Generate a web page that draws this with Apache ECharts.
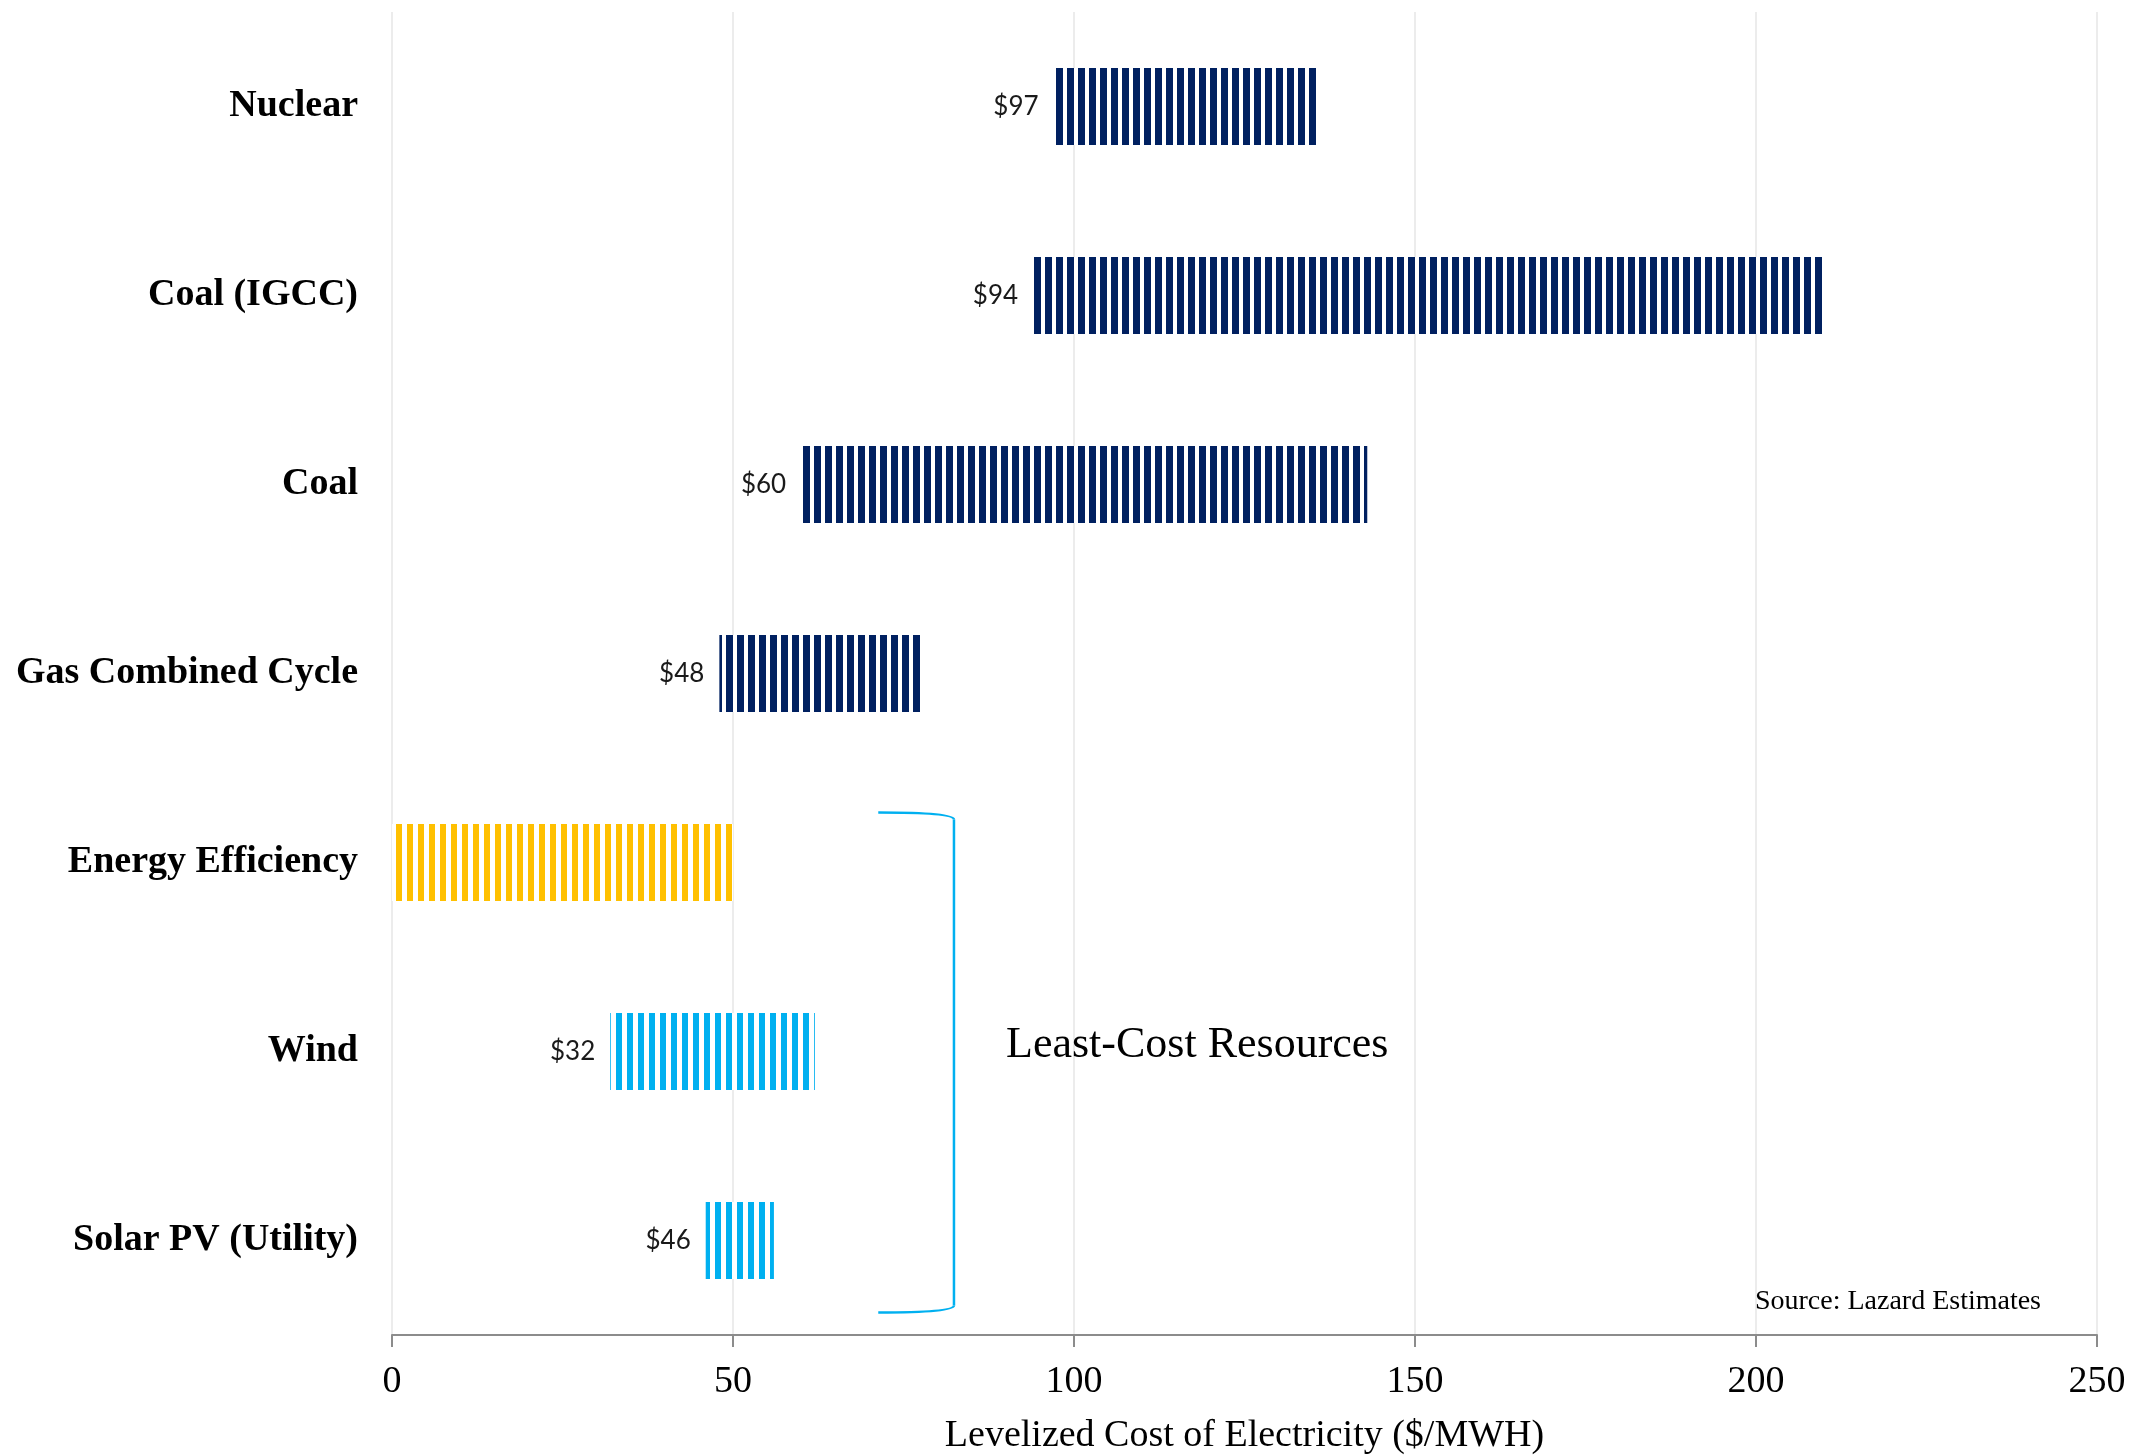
<!DOCTYPE html>
<html>
<head>
<meta charset="utf-8">
<script src="https://cdn.jsdelivr.net/npm/echarts@6/dist/echarts.min.js"></script>
<style>
  html, body { margin: 0; padding: 0; background: #ffffff; }
  #chart { width: 2156px; height: 1456px; }
</style>
</head>
<body>
<div id="chart"></div>
<script>
// Levelized cost ranges by resource ($/MWh), listed top to bottom
const categories = ['Nuclear', 'Coal (IGCC)', 'Coal', 'Gas Combined Cycle', 'Energy Efficiency', 'Wind', 'Solar PV (Utility)'];
const lowCost = [97, 94, 60, 48, 0, 32, 46];
const highCost = [136, 210, 143, 78, 50, 62, 56];
const barColors = ['#002060', '#002060', '#002060', '#002060', '#FFC000', '#00B0F0', '#00B0F0'];
const xTicks = { min: 0, max: 250, interval: 50 };

const SERIF = '"Liberation Serif", "Times New Roman", serif';
const SANS = 'Lato, "Open Sans", sans-serif';

// Vertical stripe fill: solid stripe followed by a thin white gap
function stripes(color, solid, gap) {
  const c = document.createElement('canvas');
  c.width = solid + gap;
  c.height = 4;
  const ctx = c.getContext('2d');
  ctx.fillStyle = '#ffffff';
  ctx.fillRect(0, 0, c.width, c.height);
  ctx.fillStyle = color;
  ctx.fillRect(0, 0, solid, c.height);
  return { image: c, repeat: 'repeat' };
}

const spans = highCost.map((h, i) => h - lowCost[i]);

const chart = echarts.init(document.getElementById('chart'), null, { renderer: 'canvas' });

chart.setOption({
  animation: false,
  backgroundColor: '#ffffff',
  grid: {
    left: 392, right: 59, top: 12, bottom: 121,
    containLabel: false, outerBoundsMode: 'none'
  },
  xAxis: {
    type: 'value',
    min: xTicks.min,
    max: xTicks.max,
    interval: xTicks.interval,
    name: 'Levelized Cost of Electricity ($/MWH)',
    nameLocation: 'middle',
    nameGap: 82,
    nameTextStyle: { fontFamily: SERIF, fontSize: 38, color: '#000000' },
    axisLine: { show: true, lineStyle: { color: '#8c8c8c', width: 2 } },
    axisTick: { show: true, length: 12, lineStyle: { color: '#8c8c8c', width: 2 } },
    axisLabel: { fontFamily: SERIF, fontSize: 38, color: '#000000', margin: 28 },
    splitLine: { show: true, lineStyle: { color: '#ececec', width: 2 } }
  },
  yAxis: {
    type: 'category',
    data: categories,
    inverse: true,
    axisLine: { show: false },
    axisTick: { show: false },
    splitLine: { show: false },
    axisLabel: {
      fontFamily: SERIF, fontSize: 38, fontWeight: 'bold', color: '#000000',
      margin: 34, padding: [12, 0, 0, 0]
    }
  },
  series: [
    {
      name: 'base',
      type: 'bar',
      stack: 'cost',
      barWidth: 77,
      silent: true,
      itemStyle: { color: 'rgba(0,0,0,0)' },
      data: lowCost
    },
    {
      name: 'range',
      type: 'bar',
      stack: 'cost',
      barWidth: 77,
      data: spans.map((v, i) => ({
        value: v,
        itemStyle: { color: stripes(barColors[i], i < 4 ? 7 : 6, i < 4 ? 4 : 5) }
      })),
      label: {
        show: true,
        position: 'left',
        distance: 15,
        fontFamily: SANS,
        fontSize: 26,
        color: '#1a1a1a',
        formatter: p => lowCost[p.dataIndex] > 0 ? '$' + lowCost[p.dataIndex] : ''
      }
    }
  ]
});

// Bracket grouping the least-cost resources, plus annotations
const bx0 = chart.convertToPixel({ xAxisIndex: 0 }, 71.3);
const bx1 = chart.convertToPixel({ xAxisIndex: 0 }, 82.4);
const yTop = chart.convertToPixel({ yAxisIndex: 0 }, 'Energy Efficiency') - 50;
const yBot = chart.convertToPixel({ yAxisIndex: 0 }, 'Solar PV (Utility)') + 72;
const bracketStyle = { fill: null, stroke: '#00B0F0', lineWidth: 2.5 };

chart.setOption({
  graphic: [
    {
      type: 'bezierCurve',
      shape: { x1: bx0, y1: yTop, cpx1: bx1, cpy1: yTop, x2: bx1, y2: yTop + 7 },
      style: bracketStyle
    },
    {
      type: 'line',
      shape: { x1: bx1, y1: yTop + 7, x2: bx1, y2: yBot - 7 },
      style: bracketStyle
    },
    {
      type: 'bezierCurve',
      shape: { x1: bx1, y1: yBot - 7, cpx1: bx1, cpy1: yBot, x2: bx0, y2: yBot },
      style: bracketStyle
    },
    {
      type: 'text',
      x: 1006,
      y: 1045,
      style: {
        text: 'Least-Cost Resources', fontFamily: SERIF, fontSize: 44, fill: '#000000',
        textAlign: 'left', textVerticalAlign: 'middle'
      }
    },
    {
      type: 'text',
      x: 2041,
      y: 1302,
      style: {
        text: 'Source: Lazard Estimates', fontFamily: SERIF, fontSize: 28, fill: '#000000',
        textAlign: 'right', textVerticalAlign: 'middle'
      }
    }
  ]
});
</script>
</body>
</html>
